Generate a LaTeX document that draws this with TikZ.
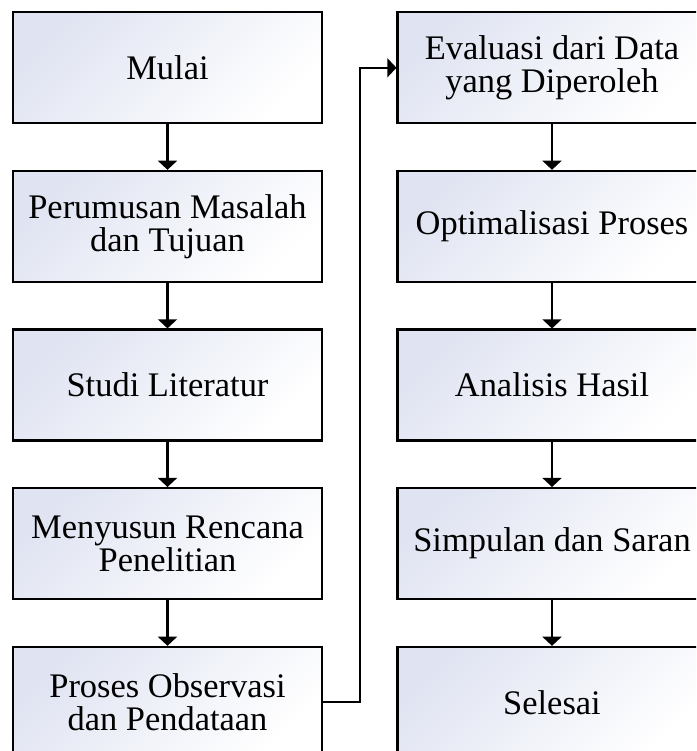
\documentclass[tikz,border=0pt]{standalone}
\usepackage{fontspec}
\setmainfont{Liberation Serif}
\usetikzlibrary{arrows.meta}

\definecolor{boxshade}{RGB}{224,228,242}

\tikzset{
    stepbox/.style={draw, line width=1.5pt, top color=boxshade, bottom color=white,
        shading angle=45, minimum width=7.725cm, minimum height=2.775cm,
        inner sep=0pt, align=center, font=\fontsize{24.5}{23.5}\selectfont},
    twoline/.style={execute at begin node={\rule{0pt}{0.95em}}},
    flow/.style={-{Triangle[width=13.5pt,length=6.5pt]}, line width=1.5pt}
}

\begin{document}
\begin{tikzpicture}
    \useasboundingbox (0,0) rectangle (17.4,18.775);
    \clip (0,0) rectangle (17.4,18.775);

    % Left column
    \node[stepbox] (mulai) at (4.1875,17.08) {Mulai};
    \node[stepbox, twoline] (rumus) at (4.1875,13.115) {Perumusan Masalah\\dan Tujuan};
    \node[stepbox] (studi) at (4.1875,9.15) {Studi Literatur};
    \node[stepbox, twoline] (rencana) at (4.1875,5.185) {Menyusun Rencana\\Penelitian};
    \node[stepbox, twoline] (observasi) at (4.1875,1.215) {Proses Observasi\\dan Pendataan};

    % Right column
    \node[stepbox, twoline] (evaluasi) at (13.8,17.08) {Evaluasi dari Data\\yang Diperoleh};
    \node[stepbox] (optimal) at (13.8,13.115) {Optimalisasi Proses};
    \node[stepbox] (analisis) at (13.8,9.15) {Analisis Hasil};
    \node[stepbox] (simpulan) at (13.8,5.185) {Simpulan dan Saran};
    \node[stepbox] (selesai) at (13.8,1.215) {Selesai};

    % Arrows
    \draw[flow] (mulai) -- (rumus);
    \draw[flow] (rumus) -- (studi);
    \draw[flow] (studi) -- (rencana);
    \draw[flow] (rencana) -- (observasi);
    \draw[flow] (observasi.east) -- ++(0.925,0) |- (evaluasi.west);
    \draw[flow] (evaluasi) -- (optimal);
    \draw[flow] (optimal) -- (analisis);
    \draw[flow] (analisis) -- (simpulan);
    \draw[flow] (simpulan) -- (selesai);
\end{tikzpicture}
\end{document}
